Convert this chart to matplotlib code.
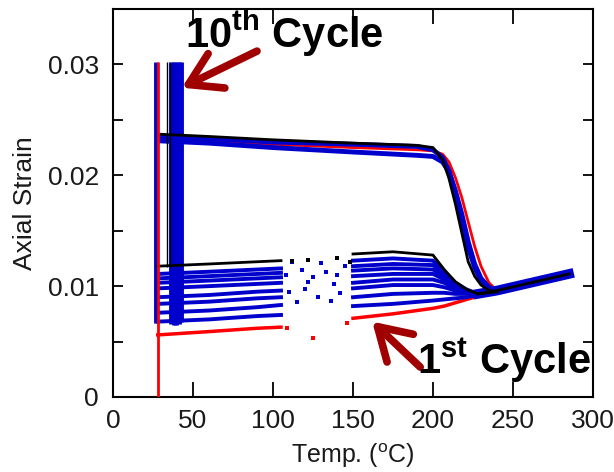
import numpy as np
import matplotlib
matplotlib.use('Agg')
import matplotlib.pyplot as plt
from matplotlib.ticker import MultipleLocator, FixedLocator, FixedFormatter

plt.rcParams['font.family'] = ['Liberation Sans', 'DejaVu Sans']
plt.rcParams['mathtext.fontset'] = 'custom'
plt.rcParams['mathtext.rm'] = 'Liberation Sans'
plt.rcParams['mathtext.bf'] = 'Liberation Sans:bold'

nan = np.nan

# upper (transformation) branch, shared temperature grid
upper_T = [30, 60, 100, 150, 190, 200, 206, 210, 214, 218, 222, 226, 230, 235, 240]
black_up = [0.0237, 0.0235, 0.0232, 0.0229, 0.0227, 0.0225, 0.0214, 0.0197, 0.0174, 0.0148, 0.0122, 0.0109, 0.0101, 0.0096, 0.0095]
blue_up_a = [0.0235, 0.0233, 0.0230, 0.0228, 0.0226, 0.0223, 0.0216, 0.0204, 0.0184, 0.0160, 0.0135, 0.0117, 0.0105, 0.0098, 0.0096]
blue_up_b = [0.0231, 0.0229, 0.0225, 0.0221, 0.0218, 0.0217, 0.0212, 0.0203, 0.0186, 0.0165, 0.0140, 0.0120, 0.0107, 0.0099, 0.0096]
red_up = [0.0233, 0.0231, 0.0228, 0.0225, 0.0223, 0.0222, 0.0219, 0.0212, 0.0198, 0.0180, 0.0158, 0.0136, 0.0118, 0.0103, 0.0096]

# lower (heating) branches, gap where data are sparse
lower_T = [28, 60, 90, 105, 130, 150, 175, 200, 207, 214, 221, 228, 240]
red_low = [0.0056, 0.0059, 0.0062, 0.0063, nan, 0.0071, 0.0075, 0.0080, 0.0082, 0.0085, 0.0088, 0.0091, 0.0095]
blue_low = [
    [0.0068, 0.0070, 0.0073, 0.0074, nan, 0.0082, 0.0084, 0.0087, 0.0088, 0.0089, 0.0090, 0.0092, 0.0095],
    [0.0076, 0.0078, 0.0081, 0.0083, nan, 0.0090, 0.0093, 0.0094, 0.0094, 0.0093, 0.0093, 0.0093, 0.0095],
    [0.0084, 0.0086, 0.0089, 0.0090, nan, 0.0098, 0.0101, 0.0101, 0.0099, 0.0096, 0.0094, 0.0093, 0.0095],
    [0.0090, 0.0092, 0.0095, 0.0096, nan, 0.0103, 0.0106, 0.0106, 0.0103, 0.0098, 0.0095, 0.0093, 0.0095],
    [0.0098, 0.0100, 0.0102, 0.0103, nan, 0.0109, 0.0111, 0.0111, 0.0106, 0.0100, 0.0095, 0.0093, 0.0095],
    [0.0103, 0.0105, 0.0107, 0.0108, nan, 0.0114, 0.0116, 0.0115, 0.0108, 0.0101, 0.0096, 0.0093, 0.0095],
    [0.0107, 0.0109, 0.0111, 0.0112, nan, 0.0118, 0.0120, 0.0119, 0.0111, 0.0102, 0.0096, 0.0093, 0.0095],
    [0.0111, 0.0113, 0.0115, 0.0116, nan, 0.0123, 0.0125, 0.0123, 0.0113, 0.0103, 0.0097, 0.0093, 0.0095],
]
black_low = [0.0118, 0.0120, 0.0122, 0.0123, nan, 0.0129, 0.0131, 0.0128, 0.0115, 0.0104, 0.0097, 0.0093, 0.0095]

# scattered readings in the sparse part
blue_dot_T = [110, 112, 118, 125, 133, 138, 142, 120, 128, 145, 130, 136, 122, 140, 115, 108]
blue_dot_s = [0.0095, 0.0122, 0.0115, 0.0108, 0.0113, 0.0102, 0.0094, 0.0097, 0.0090, 0.0118, 0.0121, 0.0087, 0.0104, 0.0110, 0.0086, 0.0110]
black_dot_T = [112, 122, 140, 148]
black_dot_s = [0.0123, 0.0124, 0.0125, 0.0122]
red_dot_T = [109, 125, 146]
red_dot_s = [0.0062, 0.0053, 0.0067]

# high temperature branch where all cycles merge
merge_T = [228, 240, 255, 270, 285]
merge_s = [0.0093, 0.0096, 0.0101, 0.0106, 0.0111]

# loading spikes at the start of the cycles
red_spike_T = [28]
red_spike_lo = [0.0]
blue_spike_T = [27, 36.5, 38, 39.5, 41, 42.5]
blue_spike_lo = [0.0067, 0.0066, 0.0065, 0.0065, 0.0066, 0.0068]
black_spike_T = [33.5, 35.5]
black_spike_lo = [0.0117, 0.0117]
spike_top = 0.0302

RED = '#FF0000'
BLUE = '#0000CD'
ARROW = '#A00000'
TXT = '#1a1a1a'

fig = plt.figure(figsize=(6.14, 4.72), dpi=100)
ax = fig.add_axes([113 / 614, 75 / 472, 480 / 614, 388 / 472])

# red - 1st cycle
ax.plot(upper_T, red_up, color=RED, lw=2, zorder=2)
ax.plot(lower_T, red_low, color=RED, lw=2.5, zorder=2)
ax.plot(red_dot_T, red_dot_s, 's', color=RED, ms=2.5, mew=0, zorder=2)

# blue - intermediate cycles
ax.plot(upper_T, blue_up_a, color=BLUE, lw=3.5, zorder=3)
ax.plot(upper_T, blue_up_b, color=BLUE, lw=3.5, zorder=3)
for s in blue_low:
    ax.plot(lower_T, s, color=BLUE, lw=2.8, zorder=3)
ax.plot(merge_T, merge_s, color=BLUE, lw=7, zorder=3)
ax.plot(blue_dot_T, blue_dot_s, 's', color=BLUE, ms=2.5, mew=0, zorder=3)

# black - 10th cycle
ax.plot(upper_T, black_up, color='black', lw=2, zorder=4)
ax.plot(lower_T, black_low, color='black', lw=2, zorder=4)
ax.plot(merge_T, merge_s, color='black', lw=2, zorder=4)
ax.plot(black_dot_T, black_dot_s, 's', color='black', ms=2.5, mew=0, zorder=4)

ax.vlines(blue_spike_T, blue_spike_lo, spike_top, color=BLUE, lw=3.5, zorder=3)
ax.vlines(black_spike_T, black_spike_lo, spike_top, color='black', lw=1, zorder=4)
ax.vlines(red_spike_T, red_spike_lo, spike_top, color=RED, lw=2, zorder=5)

ax.set_xlim(0, 300)
ax.set_ylim(0, 0.035)
ax.xaxis.set_major_locator(MultipleLocator(50))
ax.yaxis.set_major_locator(FixedLocator([0, 0.01, 0.02, 0.03]))
ax.yaxis.set_major_formatter(FixedFormatter(['0', '0.01', '0.02', '0.03']))
ax.yaxis.set_minor_locator(MultipleLocator(0.005))
ax.tick_params(axis='x', direction='in', top=True, length=11, width=1.3,
               labelsize=19, pad=9, labelcolor=TXT)
ax.tick_params(axis='y', which='both', direction='in', right=True, length=7, width=1.3,
               labelsize=19, pad=10, labelcolor=TXT)
for sp in ax.spines.values():
    sp.set_linewidth(1.5)

ax.set_xlabel(r'Temp. ($^{\mathrm{o}}$C)', fontsize=18, color=TXT, labelpad=6)
ax.set_ylabel('Axial Strain', fontsize=19, color=TXT, labelpad=8)

arrow = dict(arrowstyle='->,head_length=0.9,head_width=0.55', lw=5.5, color=ARROW,
             mutation_scale=25, shrinkA=0, shrinkB=0, capstyle='round')
ax.annotate('', xy=(43, 0.0279), xytext=(90, 0.0312), arrowprops=arrow, zorder=6)
ax.annotate('', xy=(162, 0.0068), xytext=(192, 0.0027), arrowprops=arrow, zorder=6)

ax.text(45, 0.0315, r'10$^{\mathbf{th}}$ Cycle', fontsize=30, fontweight='bold',
        va='baseline', zorder=7, clip_on=False)
ax.text(190, 0.0021, r'1$^{\mathbf{st}}$ Cycle', fontsize=30, fontweight='bold',
        va='baseline', zorder=7, clip_on=False)

plt.savefig('out.png', dpi=100)
plt.close()
